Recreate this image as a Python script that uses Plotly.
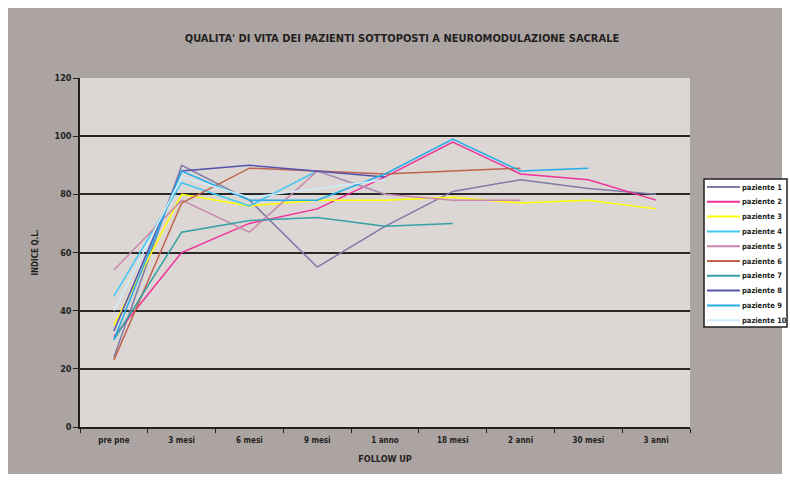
import plotly.graph_objects as go

# Follow-up time points
categories = ["pre pne", "3 mesi", "6 mesi", "9 mesi", "1 anno",
              "18 mesi", "2 anni", "30 mesi", "3 anni"]

# Quality-of-life index per patient (series stop where follow-up ends)
paziente_1 = [24, 90, 78, 55, 69, 81, 85, 82, 80]
paziente_2 = [31, 60, 70, 75, 86, 98, 87, 85, 78]
paziente_3 = [35, 80, 76, 78, 78, 79, 77, 78, 75]
paziente_4 = [45, 84, 76, 88, 80]
paziente_5 = [54, 78, 67, 88, 80, 78, 78]
paziente_6 = [23, 77, 89, 88, 87, 88, 89]
paziente_7 = [30, 67, 71, 72, 69, 70]
paziente_8 = [33, 88, 90, 88, 86]
paziente_9 = [30, 88, 78, 78, 87, 99, 88, 89]
paziente_10 = [40, 86, 79, 82, 85]

series_names = ["paziente 1", "paziente 2", "paziente 3", "paziente 4", "paziente 5",
                "paziente 6", "paziente 7", "paziente 8", "paziente 9", "paziente 10"]
series_values = [paziente_1, paziente_2, paziente_3, paziente_4, paziente_5,
                 paziente_6, paziente_7, paziente_8, paziente_9, paziente_10]
series_colors = ["#7e7ca6", "#f0309a", "#ffff00", "#40c8f4", "#c888ac",
                 "#c0634e", "#34a0a4", "#5552ae", "#22aeea", "#cdeefa"]

FONT = "DejaVu Sans Condensed, DejaVu Sans, sans-serif"
INK = "#231f20"

# plot-area geometry in pixels, used to place frame and legend in paper units
L, R, T, B = 80, 690, 78, 427


def px(x):
    return (x - L) / (R - L)


def py(y):
    return (B - y) / (B - T)


fig = go.Figure()
for name, vals, col in zip(series_names, series_values, series_colors):
    fig.add_trace(go.Scatter(
        x=categories[:len(vals)], y=vals, name=name, mode="lines",
        line=dict(color=col, width=1.5), showlegend=False,
    ))

# outer grey chart frame with a thin white margin, then the light plot area
fig.add_shape(type="rect", xref="paper", yref="paper",
              x0=px(8), x1=px(782), y0=py(474), y1=py(8),
              fillcolor="#aca4a2", line=dict(width=0), layer="below")
fig.add_shape(type="rect", xref="paper", yref="paper",
              x0=0, x1=1, y0=0, y1=1,
              fillcolor="#dcd7d4", line=dict(width=0), layer="below")

# legend box with line samples and labels
fig.add_shape(type="rect", xref="paper", yref="paper",
              x0=px(704), x1=px(787), y0=py(327), y1=py(179),
              fillcolor="white", line=dict(color=INK, width=1.5))
for i, (name, col) in enumerate(zip(series_names, series_colors)):
    yy = 187 + i * 14.8
    fig.add_shape(type="line", xref="paper", yref="paper",
                  x0=px(707), x1=px(740), y0=py(yy), y1=py(yy),
                  line=dict(color=col, width=2))
    fig.add_annotation(xref="paper", yref="paper", x=px(740), y=py(yy),
                       xanchor="left", yanchor="middle", showarrow=False,
                       text=name, font=dict(family=FONT, size=7.5, color=INK, weight="bold"))

fig.update_layout(
    width=790, height=481,
    margin=dict(l=L, r=790 - R, t=T, b=481 - B),
    paper_bgcolor="white",
    plot_bgcolor="rgba(0,0,0,0)",
    font=dict(family=FONT, color=INK, size=9, weight="bold"),
    title=dict(text="QUALITA' DI VITA DEI PAZIENTI SOTTOPOSTI A NEUROMODULAZIONE SACRALE",
               x=402 / 790, xanchor="center", y=1 - 38 / 481, yanchor="middle",
               font=dict(family=FONT, size=11, color=INK, weight="bold")),
    showlegend=False,
    xaxis=dict(type="category", categoryorder="array", categoryarray=categories,
               range=[-0.5, 8.5], tickson="boundaries", ticks="outside", ticklen=4,
               tickcolor=INK, showline=True, linecolor=INK, linewidth=1.5,
               showgrid=False, tickfont=dict(size=8), ticklabelstandoff=5,
               title=dict(text="FOLLOW UP", standoff=11,
                          font=dict(size=9, weight="bold"))),
    yaxis=dict(range=[0, 120], dtick=20, ticks="outside", ticklen=5, tickcolor=INK,
               showline=True, linecolor=INK, linewidth=1.5,
               showgrid=True, gridcolor="#2b2727", gridwidth=1.5, zeroline=False,
               tickfont=dict(size=9),
               title=dict(text="INDICE Q.L.", standoff=15,
                          font=dict(size=8, weight="bold"))),
)

fig.write_html("out.html")
